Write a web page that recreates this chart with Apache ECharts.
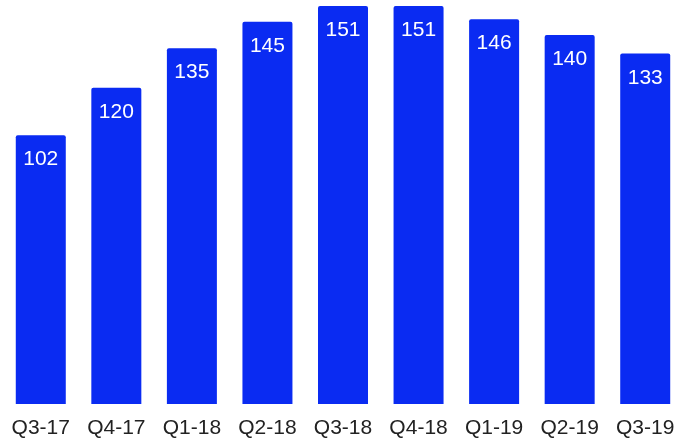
<!DOCTYPE html>
<html>
<head>
<meta charset="utf-8">
<script src="https://cdn.jsdelivr.net/npm/echarts@6/dist/echarts.min.js"></script>
<style>
    html, body { margin: 0; padding: 0; background: #fff; }
    #chart { width: 683px; height: 439px; }
</style>
</head>
<body>
<div id="chart"></div>
<script>
    var categories = ['Q3-17', 'Q4-17', 'Q1-18', 'Q2-18', 'Q3-18', 'Q4-18', 'Q1-19', 'Q2-19', 'Q3-19'];
    var values = [102, 120, 135, 145, 151, 151, 146, 140, 133];

    var chart = echarts.init(document.getElementById('chart'));
    chart.setOption({
        backgroundColor: '#ffffff',
        grid: {
            left: 3,
            top: 6,
            width: 688,
            bottom: 35
        },
        xAxis: {
            type: 'category',
            data: categories,
            axisLine: {show: false},
            axisTick: {show: false},
            axisLabel: {
                interval: 0,
                color: '#222',
                fontSize: 21,
                fontFamily: 'Liberation Sans, Arial, sans-serif',
                margin: 14
            }
        },
        yAxis: {
            type: 'value',
            min: 0,
            max: 151,
            show: false,
            splitLine: {show: false}
        },
        series: [{
            type: 'bar',
            data: values,
            barWidth: 50,
            itemStyle: {
                color: '#0a2bf2',
                borderRadius: [2, 2, 0, 0]
            },
            label: {
                show: true,
                position: 'insideTop',
                distance: 14,
                color: '#fff',
                fontSize: 21,
                fontFamily: 'Liberation Sans, Arial, sans-serif'
            }
        }]
    });
</script>
</body>
</html>
